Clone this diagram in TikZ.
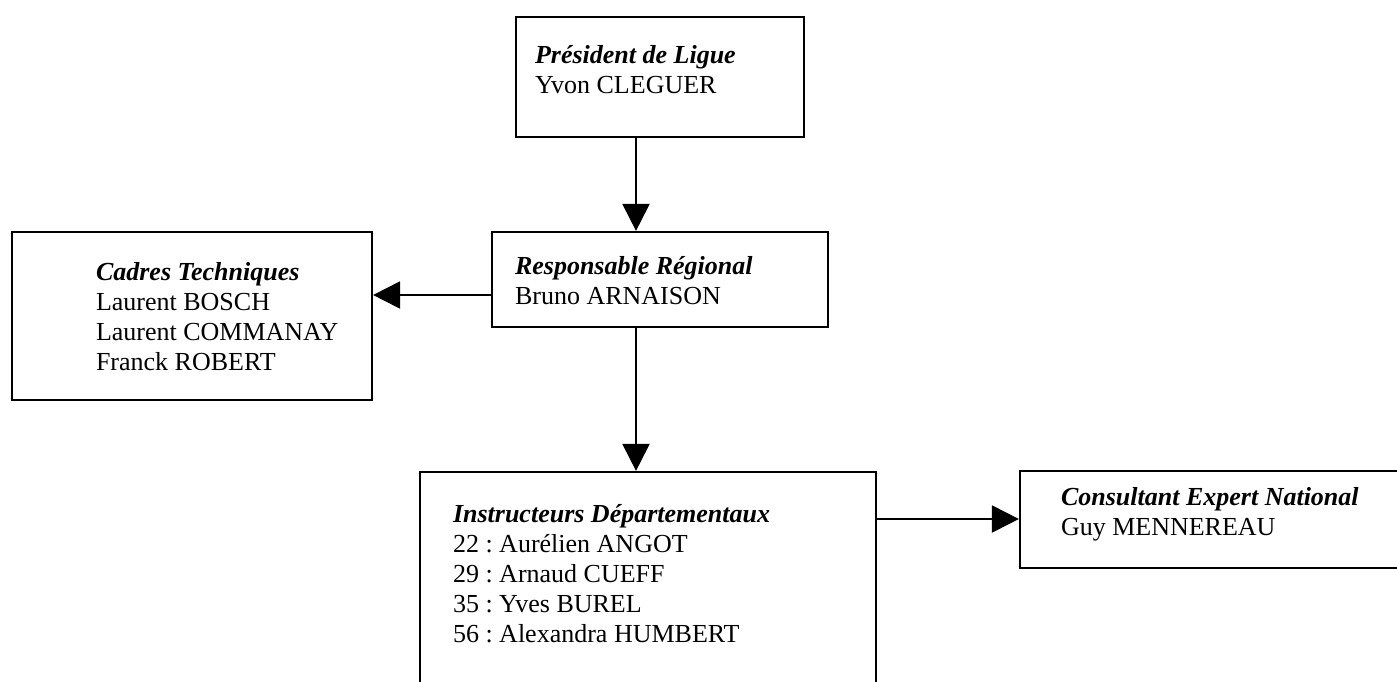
\documentclass[tikz,border=0pt]{standalone}
\usepackage{fontspec}
\setmainfont{Liberation Serif}
\frenchspacing
\usetikzlibrary{arrows.meta}
\newcommand{\orgtext}[2]{\parbox[t]{12cm}{\fontsize{26}{30}\selectfont\frenchspacing\raggedright\textbf{\textit{#1}}\\#2}}
\tikzset{
  orgbox/.style={draw, line width=2.2pt, rectangle, inner sep=0pt},
  orglabel/.style={anchor=base west, inner sep=0pt, outer sep=0pt},
  orgarrow/.style={line width=2pt, -{Triangle[length=27pt,width=27pt]}}
}
\begin{document}
\begin{tikzpicture}[x=1pt,y=-1pt]
\useasboundingbox (0,0) rectangle (1397,681);
% boxes
\node[orgbox, minimum width=288pt, minimum height=120pt] (pres) at (660,77) {};
\node[orgbox, minimum width=336pt, minimum height=95pt] (resp) at (660,279.5) {};
\node[orgbox, minimum width=360pt, minimum height=168pt] (cadres) at (192,316) {};
\node[orgbox, minimum width=456pt, minimum height=240pt] (instr) at (648,592) {};
\node[orgbox, minimum width=400pt, minimum height=97pt] (cons) at (1220,519.5) {};
% texts
\node[orglabel] (prest) at (535,63) {\orgtext{Président de Ligue}{Yvon CLEGUER}};
\node[orglabel] (respt) at (515,274) {\orgtext{Responsable Régional}{Bruno ARNAISON}};
\node[orglabel] (cadrest) at (96,280) {\orgtext{Cadres Techniques}{Laurent BOSCH\\Laurent COMMANAY\\Franck ROBERT}};
\node[orglabel] (instrt) at (453,522) {\orgtext{Instructeurs Départementaux}{22 : Aurélien ANGOT\\29 : Arnaud CUEFF\\35 : Yves BUREL\\56 : Alexandra HUMBERT}};
\node[orglabel] (const) at (1061,505) {\orgtext{Consultant Expert National}{Guy MENNEREAU}};
% connectors
\draw[orgarrow] ([xshift=-24pt]pres.south) -- ([xshift=-24pt]resp.north);
\draw[orgarrow] ([yshift=-15.5pt]resp.west) -- ([yshift=-15.5pt]resp.west -| cadres.east);
\draw[orgarrow] ([xshift=-24pt]resp.south) -- ([xshift=-24pt]resp.south |- instr.north);
\draw[orgarrow] ([yshift=0.5pt]instr.east |- cons.west) -- ([yshift=0.5pt]cons.west);
\end{tikzpicture}
\end{document}
